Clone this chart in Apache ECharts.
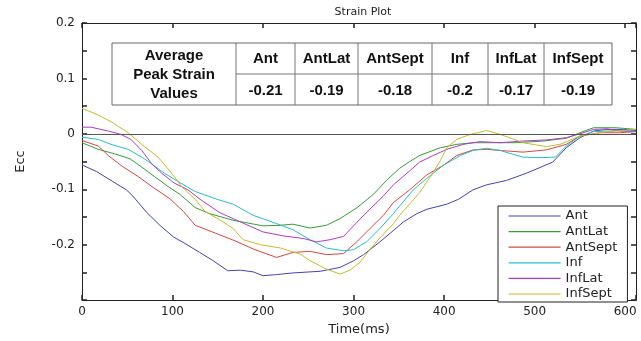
<!DOCTYPE html>
<html>
<head>
<meta charset="utf-8">
<script src="https://cdn.jsdelivr.net/npm/echarts@6/dist/echarts.min.js"></script>
<style>html,body{margin:0;padding:0;background:#fff;}#main{width:641px;height:341px;}</style>
</head>
<body>
<div id="main"></div>
<script>
// ---- data ----
var seriesNames = ['Ant', 'AntLat', 'AntSept', 'Inf', 'InfLat', 'InfSept'];
var seriesColors = ['#4444b0', '#3a9a3a', '#d64840', '#28bec8', '#b03cc4', '#c4bc30'];

var ant = [[0,-0.056],[16,-0.068],[34,-0.086],[49,-0.101],[56,-0.112],[71,-0.141],[86,-0.165],[101,-0.186],[116,-0.200],[130,-0.214],[145,-0.229],[161,-0.247],[175,-0.246],[189,-0.249],[200,-0.256],[215,-0.254],[233,-0.251],[263,-0.248],[285,-0.241],[300,-0.229],[311,-0.218],[326,-0.199],[340,-0.180],[355,-0.159],[370,-0.144],[381,-0.136],[403,-0.127],[416,-0.118],[432,-0.101],[447,-0.092],[469,-0.084],[491,-0.071],[520,-0.051],[535,-0.025],[550,-0.007],[565,0.005],[580,0.008],[598,0.008],[612,0.006]];
var antLat = [[0,-0.016],[18,-0.028],[36,-0.036],[53,-0.045],[66,-0.060],[80,-0.077],[95,-0.095],[108,-0.109],[125,-0.133],[141,-0.144],[167,-0.156],[200,-0.166],[219,-0.165],[233,-0.163],[252,-0.170],[270,-0.165],[285,-0.153],[304,-0.133],[322,-0.109],[337,-0.083],[351,-0.062],[362,-0.050],[373,-0.039],[396,-0.025],[414,-0.019],[432,-0.016],[454,-0.016],[480,-0.016],[510,-0.013],[535,-0.008],[550,0.002],[565,0.011],[590,0.011],[612,0.008]];
var antSept = [[0,-0.012],[18,-0.022],[29,-0.039],[43,-0.057],[62,-0.077],[78,-0.096],[97,-0.117],[112,-0.140],[125,-0.165],[147,-0.179],[169,-0.193],[191,-0.209],[215,-0.223],[233,-0.214],[252,-0.212],[270,-0.218],[289,-0.216],[304,-0.194],[318,-0.171],[333,-0.147],[344,-0.124],[362,-0.101],[381,-0.074],[399,-0.057],[414,-0.039],[432,-0.029],[447,-0.028],[462,-0.030],[487,-0.033],[513,-0.029],[535,-0.019],[550,-0.004],[572,0.002],[594,0.002],[612,0.004]];
var inf = [[0,-0.006],[18,-0.010],[32,-0.019],[51,-0.028],[69,-0.045],[91,-0.071],[106,-0.086],[125,-0.104],[149,-0.118],[167,-0.127],[189,-0.147],[215,-0.162],[233,-0.173],[252,-0.191],[270,-0.206],[289,-0.211],[300,-0.209],[315,-0.194],[329,-0.171],[344,-0.144],[351,-0.130],[366,-0.101],[381,-0.080],[399,-0.057],[418,-0.039],[432,-0.030],[447,-0.026],[462,-0.030],[487,-0.042],[506,-0.043],[523,-0.042],[535,-0.022],[550,-0.004],[565,0.004],[594,0.006],[612,0.004]];
var infLat = [[0,0.012],[10,0.012],[29,0.005],[43,-0.001],[54,-0.010],[66,-0.030],[77,-0.054],[88,-0.071],[102,-0.089],[117,-0.101],[132,-0.120],[152,-0.142],[175,-0.159],[200,-0.177],[222,-0.184],[245,-0.189],[259,-0.195],[274,-0.191],[289,-0.185],[304,-0.159],[318,-0.136],[333,-0.112],[344,-0.092],[359,-0.071],[373,-0.051],[388,-0.039],[403,-0.028],[421,-0.019],[440,-0.014],[462,-0.016],[487,-0.013],[513,-0.011],[535,-0.007],[550,0.000],[565,0.008],[580,0.009],[594,0.005],[612,0.005]];
var infSept = [[0,0.046],[18,0.034],[32,0.022],[51,0.002],[66,-0.019],[84,-0.042],[99,-0.071],[110,-0.095],[125,-0.118],[136,-0.140],[156,-0.159],[167,-0.171],[178,-0.191],[197,-0.200],[219,-0.206],[241,-0.217],[252,-0.229],[270,-0.244],[285,-0.253],[296,-0.246],[307,-0.232],[318,-0.209],[329,-0.188],[344,-0.162],[351,-0.147],[373,-0.106],[385,-0.077],[396,-0.048],[403,-0.025],[414,-0.010],[429,-0.001],[447,0.006],[462,-0.001],[487,-0.016],[513,-0.023],[528,-0.019],[550,-0.004],[565,0.000],[580,0.004],[612,0.008]];
var seriesData = [ant, antLat, antSept, inf, infLat, infSept];

var tableTitle = ['Average', 'Peak Strain', 'Values'];
var tableHeaders = ['Ant', 'AntLat', 'AntSept', 'Inf', 'InfLat', 'InfSept'];
var tableValues = ['-0.21', '-0.19', '-0.18', '-0.2', '-0.17', '-0.19'];

var xMin = 0, xMax = 612, xInterval = 100;
var yMin = -0.3, yMax = 0.2, yInterval = 0.05;

// ---- table graphic (layout) ----
var colX = [112, 236, 295, 358, 432, 488, 544, 612];
var rowY = [43, 74, 105];
var tableFont = 'bold 15px "Liberation Sans", Arial, sans-serif';
var graphics = [];
graphics.push({type:'rect', shape:{x:colX[0], y:rowY[0], width:colX[7]-colX[0], height:rowY[2]-rowY[0]},
  style:{fill:'#fff', stroke:'#666', lineWidth:1}, z:50});
graphics.push({type:'line', shape:{x1:colX[1], y1:rowY[1], x2:colX[7], y2:rowY[1]}, style:{stroke:'#777', lineWidth:1}, z:51});
for (var i = 1; i < colX.length - 1; i++) {
  graphics.push({type:'line', shape:{x1:colX[i], y1:rowY[0], x2:colX[i], y2:rowY[2]}, style:{stroke:'#777', lineWidth:1}, z:51});
}
var titleCx = (colX[0] + colX[1]) / 2;
var titleYs = [56, 75, 94];
tableTitle.forEach(function (t, k) {
  graphics.push({type:'text', x:titleCx, y:titleYs[k], style:{text:t, font:tableFont, fill:'#111', align:'center', verticalAlign:'middle'}, z:52});
});
tableHeaders.forEach(function (h, k) {
  var cx = (colX[k+1] + colX[k+2]) / 2;
  graphics.push({type:'text', x:cx, y:59, style:{text:h, font:tableFont, fill:'#111', align:'center', verticalAlign:'middle'}, z:52});
  graphics.push({type:'text', x:cx, y:90.5, style:{text:tableValues[k], font:tableFont, fill:'#111', align:'center', verticalAlign:'middle'}, z:52});
});

var chart = echarts.init(document.getElementById('main'), null, {renderer:'canvas'});
var axisFont = {fontFamily:'"DejaVu Sans", sans-serif', fontSize:12, color:'#222'};
var axisLineStyle = {color:'#222', width:1};
var tickStyle = {show:true, inside:true, length:5, lineStyle:{color:'#222', width:1.5}};

var series = seriesNames.map(function (name, i) {
  var s = {
    name: name, type: 'line', data: seriesData[i], symbol: 'none', smooth: false,
    xAxisIndex: 0, yAxisIndex: 0,
    lineStyle: {color: seriesColors[i], width: 1}, itemStyle: {color: seriesColors[i]},
    animation: false, z: 3
  };
  if (i === 0) {
    s.markLine = {silent:true, symbol:'none', label:{show:false},
      lineStyle:{color:'#555', width:1, type:'solid'}, data:[{yAxis:0}], animation:false};
  }
  return s;
});

chart.setOption({
  animation: false,
  backgroundColor: '#fff',
  title: {text:'Strain Plot', left:358, top:2, textAlign:'center',
    textStyle:{fontFamily:'"DejaVu Sans", sans-serif', fontSize:11, fontWeight:'normal', color:'#222'}},
  grid: {left:82, right:5, top:23, bottom:34, containLabel:false},
  legend: {
    orient:'vertical', left:498, top:206, padding:[3, 10, 1, 10],
    backgroundColor:'#fff', borderColor:'#222', borderWidth:1, borderRadius:0,
    itemWidth:52, itemHeight:14, itemGap:1.6,
    itemStyle:{opacity:0, borderWidth:0},
    lineStyle:{width:1.2},
    textStyle:{fontFamily:'"DejaVu Sans", sans-serif', fontSize:13, color:'#222', lineHeight:14},
    data: seriesNames
  },
  xAxis: [{
    type:'value', min:xMin, max:xMax, interval:xInterval, position:'bottom',
    name:'Time(ms)', nameLocation:'middle', nameGap:18,
    nameTextStyle:{fontFamily:'"DejaVu Sans", sans-serif', fontSize:13, color:'#222'},
    axisLine:{show:true, onZero:false, lineStyle:axisLineStyle},
    axisTick:tickStyle,
    axisLabel:Object.assign({margin:6, formatter:function(v){return (v % 100 === 0) ? String(v) : '';}}, axisFont),
    splitLine:{show:false}
  }, {
    type:'value', min:xMin, max:xMax, interval:xInterval, position:'top',
    axisLine:{show:true, onZero:false, lineStyle:axisLineStyle},
    axisTick:tickStyle,
    axisLabel:{show:false}, splitLine:{show:false}
  }],
  yAxis: [{
    type:'value', min:yMin, max:yMax, interval:yInterval, position:'left',
    name:'Ecc', nameLocation:'middle', nameGap:55, nameRotate:90,
    nameTextStyle:{fontFamily:'"DejaVu Sans", sans-serif', fontSize:13, color:'#222'},
    axisLine:{show:true, onZero:false, lineStyle:axisLineStyle},
    axisTick:tickStyle,
    axisLabel:Object.assign({margin:7, formatter:function(v){
      var r = Math.round(v * 10) / 10;
      if (Math.abs(v - r) > 1e-6 || r < -0.25) return '';
      return String(r);
    }}, axisFont),
    splitLine:{show:false}
  }, {
    type:'value', min:yMin, max:yMax, interval:yInterval, position:'right',
    axisLine:{show:true, onZero:false, lineStyle:axisLineStyle},
    axisTick:tickStyle,
    axisLabel:{show:false}, splitLine:{show:false}
  }],
  graphic: graphics,
  series: series
});
</script>
</body>
</html>
